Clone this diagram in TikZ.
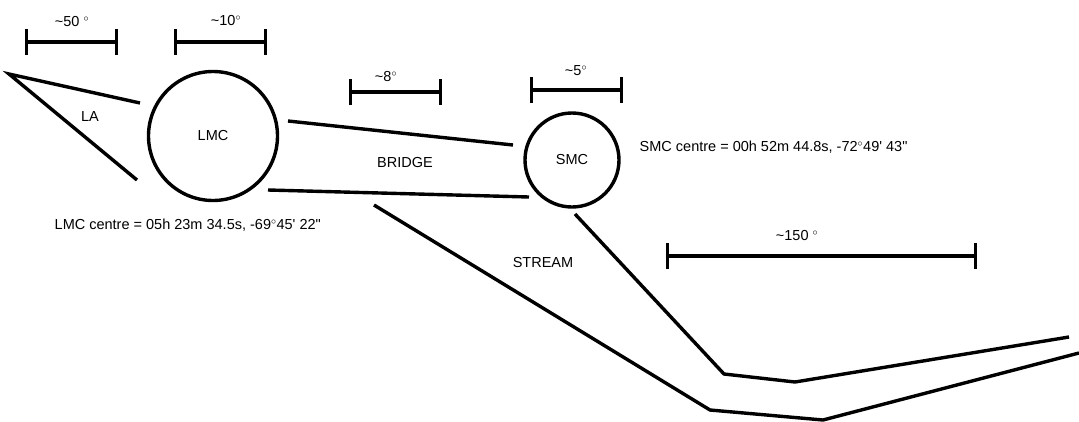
\documentclass[tikz,border=0pt]{standalone}
\usepackage{fontspec}
\setmainfont{Liberation Sans}
\usetikzlibrary{arrows.meta}

\begin{document}
\begin{tikzpicture}[x=1pt, y=-1pt, line width=3.4pt,
    every node/.style={font=\fontsize{14.5}{16}\selectfont, inner sep=0pt},
    galaxy/.style={draw, circle, line width=3.4pt},
    scalebar/.style={{Bar[width=26pt]}-{Bar[width=26pt]}}]
    \useasboundingbox (0,0) rectangle (1079,421);

    \node (la) at (90,117) {LA};
    \node[galaxy, minimum size=129pt] (lmc) at (213,136) {LMC};
    \node[galaxy, minimum size=94pt] (smc) at (572,160) {SMC};
    \node (bridge) at (405,163) {BRIDGE};
    \node (stream) at (543,263) {STREAM};
    \node[anchor=west] (lmcpos) at (53,225) {LMC centre = 05h 23m 34.5s, -69\textsuperscript{$\circ$}45\textquotesingle{} 22\textquotedbl};
    \node[anchor=west] (smcpos) at (638,147) {SMC centre = 00h 52m 44.8s, -72\textsuperscript{$\circ$}49\textquotesingle{} 43\textquotedbl};

    \draw[scalebar] (25,42) -- (118,42);
    \node (s50) at (72,22) {\textasciitilde50 $^\circ$};
    \draw[scalebar] (174,42) -- (267,42);
    \node (s10) at (226,21) {\textasciitilde10$^\circ$};
    \draw[scalebar] (349,92) -- (442,92);
    \node (s8) at (386,77) {\textasciitilde8$^\circ$};
    \draw[scalebar] (530,90) -- (623,90);
    \node (s5) at (576,71) {\textasciitilde5$^\circ$};
    \draw[scalebar] (666,256) -- (977,256);
    \node (s150) at (797,236) {\textasciitilde150 $^\circ$};

    \draw (140,103) -- (9,74) -- (137,180);
    \draw (288,121) -- (513,145);
    \draw (268,190) -- (529,197);
    \draw (374,205) -- (710,410) -- (823,420) -- (1079,353);
    \draw (575,214) -- (724,374) -- (795,382) -- (1069,337);
\end{tikzpicture}
\end{document}
